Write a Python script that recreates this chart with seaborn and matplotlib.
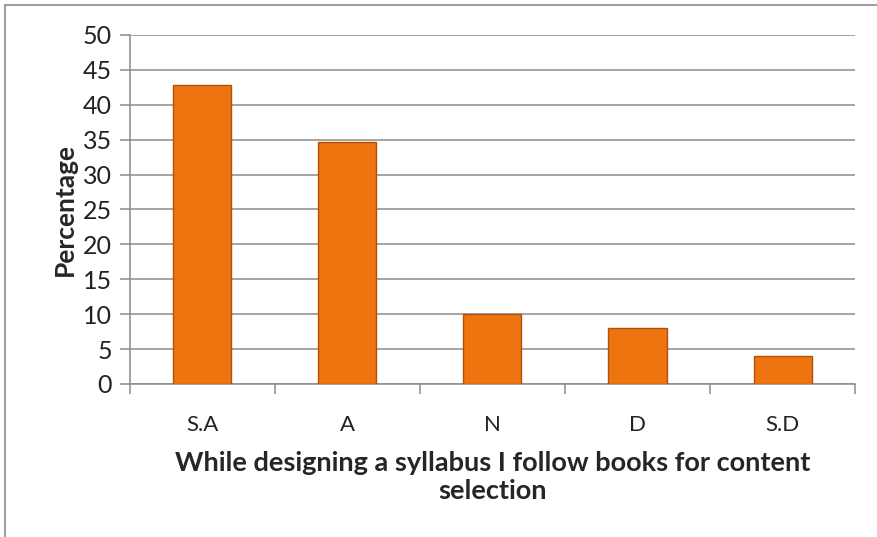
import matplotlib
matplotlib.use("Agg")
import matplotlib.pyplot as plt
import seaborn as sns
import pandas as pd
from matplotlib.lines import Line2D

# =====================
# DATA
# =====================

categories = ["S.A", "A", "N", "D", "S.D"]
percentages = [42.8, 34.6, 10.0, 8.0, 4.0]
y_ticks = [0, 5, 10, 15, 20, 25, 30, 35, 40, 45, 50]

df = pd.DataFrame({"response": categories, "pct": percentages})

# =====================
# PLOT
# =====================

sns.set_theme(style="white")
plt.rcParams["font.family"] = ["Lato", "DejaVu Sans"]

fig = plt.figure(figsize=(8.77, 5.37), dpi=100)
ax = fig.add_axes([0.148, 0.285, 0.827, 0.65])

sns.barplot(
    data=df,
    x="response",
    y="pct",
    color="#EE7410",
    width=0.4,
    edgecolor="#B0520A",
    linewidth=1.0,
    saturation=1,
    ax=ax,
    zorder=3
)

ax.set_ylim(0, 50)
ax.set_xlim(-0.5, 4.5)
ax.set_yticks(y_ticks)
ax.set_yticklabels([str(t) for t in y_ticks], fontsize=18, color="#222222")
ax.tick_params(axis="x", labelsize=16, colors="#222222", pad=22)

ax.yaxis.grid(True, color="#8C8C8C", linewidth=1.1, zorder=0)
ax.set_axisbelow(True)

for side in ["top", "right"]:
    ax.spines[side].set_visible(False)
for side in ["left", "bottom"]:
    ax.spines[side].set_color("#8C8C8C")
    ax.spines[side].set_linewidth(1.1)

# y ticks out to the left, x ticks at category boundaries
ax.tick_params(axis="y", which="major", length=7, width=1.1, color="#8C8C8C",
               left=True, direction="out", pad=6)
ax.set_xticks(range(len(categories)))
ax.tick_params(axis="x", which="major", length=0)
ax.set_xticks([i - 0.5 for i in range(len(categories) + 1)], minor=True)
ax.tick_params(axis="x", which="minor", length=7, width=1.1, color="#8C8C8C",
               bottom=True, direction="out")

ax.set_ylabel("Percentage", fontsize=19, fontweight="bold", labelpad=4)
ax.set_xlabel(
    "While designing a syllabus I follow books for content\nselection",
    fontsize=19.5,
    fontweight="bold",
    labelpad=12,
    linespacing=1.2
)

# chart frame (top and left edges visible)
fig.add_artist(Line2D([0.006, 0.006], [0.0, 0.991], transform=fig.transFigure,
                      color="#8C8C8C", linewidth=1.2))
fig.add_artist(Line2D([0.006, 1.0], [0.991, 0.991], transform=fig.transFigure,
                      color="#8C8C8C", linewidth=1.2))

plt.savefig("out.png", dpi=100)
plt.close()
